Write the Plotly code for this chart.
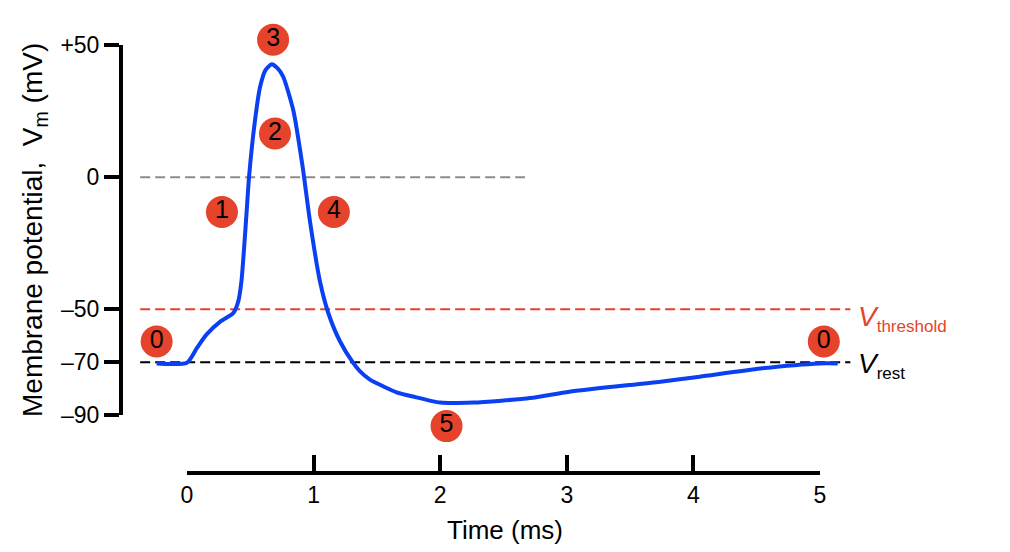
import plotly.graph_objects as go

# ---------------- data ----------------
time_ms = [-0.24, 0.0, 0.08, 0.155, 0.265, 0.366, 0.405, 0.43, 0.466, 0.49, 0.537, 0.577,
           0.62, 0.669, 0.72, 0.761, 0.84, 0.914, 0.971, 1.05, 1.116, 1.209, 1.314, 1.367,
           1.445, 1.548, 1.656, 1.785, 2.0, 2.26, 2.71, 3.02, 3.74, 4.05, 4.53, 5.0, 5.14]
vm_mv = [-70.5, -70.2, -64.5, -59.5, -54.6, -51.4, -47, -39.4, -16.6, 0, 21.4, 34.1,
         40.5, 42.7, 41, 37.9, 25.2, 3.7, -16.6, -39.4, -51.4, -62.2, -70.4, -73.5,
         -76.6, -79.1, -81.4, -83, -85.3, -85.3, -83.6, -81.2, -77.4, -75.5, -72.4, -70.5, -70.5]

phase_labels = ["0", "1", "2", "3", "4", "5", "0"]
phase_t = [-0.24, 0.276, 0.695, 0.68, 1.16, 2.05, 5.03]
phase_v = [-62.2, -13.2, 16.5, 52.0, -13.2, -94.2, -62.2]

zero_line_t = [-0.37, 2.67]
ref_line_t = [-0.37, 5.24]
v_zero = 0
v_threshold = -50
v_rest = -70

y_range = [-90, 50]
x_range_vis = [0, 5]
y_tickvals = [-90, -70, -50, 0, 50]
y_ticktext = ["–90", "–70", "–50", "0", "+50"]
x_tickvals = [0, 1, 2, 3, 4, 5]
x_ticktext = ["0", "1", "2", "3", "4", "5"]

# ---------------- layout geometry (screen pixels) ----------------
OFF = 8                       # default page margin of the html body
W, H = 1010 - OFF, 552 - OFF
PL, PR, PT, PB = 110, 880, 20, 480     # plot area on screen
ml, mr, mt, mb = PL - OFF, W - (PR - OFF), PT - OFF, H - (PB - OFF)
pw, ph = PR - PL, PB - PT

y_top_px, y_bot_px = 45, 415          # +50 mV and -90 mV
t0_px, t5_px = 187, 820               # 0 ms and 5 ms
yaxis_px = 119                        # screen x of the potential axis line
taxis_px = 473                        # screen y of the time axis line


def fx(px):
    return (px - PL) / pw


def fy(py):
    return (PB - py) / ph


# data axes (hidden) share the mapping of the visible axes
t_per_px = (x_range_vis[1] - x_range_vis[0]) / (t5_px - t0_px)
x_data_range = [x_range_vis[0] + (PL - t0_px) * t_per_px, x_range_vis[0] + (PR - t0_px) * t_per_px]
v_per_px = (y_range[1] - y_range[0]) / (y_bot_px - y_top_px)
y_data_range = [y_range[0] - (PB - y_bot_px) * v_per_px, y_range[1] + (y_top_px - PT) * v_per_px]

BLUE = "#0b3ff2"
RED = "#e5432b"
FONT = "Arial, Liberation Sans, sans-serif"

fig = go.Figure()

# reference dashed lines
fig.add_trace(go.Scatter(x=zero_line_t, y=[v_zero, v_zero], mode="lines",
                         line=dict(color="#8c8c8c", width=2, dash="10px,5px"),
                         hoverinfo="skip", showlegend=False))
fig.add_trace(go.Scatter(x=ref_line_t, y=[v_threshold, v_threshold], mode="lines",
                         line=dict(color=RED, width=2, dash="10px,5px"),
                         hoverinfo="skip", showlegend=False))
fig.add_trace(go.Scatter(x=ref_line_t, y=[v_rest, v_rest], mode="lines",
                         line=dict(color="black", width=2, dash="10px,5px"),
                         hoverinfo="skip", showlegend=False))

# action potential
fig.add_trace(go.Scatter(x=time_ms, y=vm_mv, mode="lines",
                         line=dict(color=BLUE, width=4, shape="spline", smoothing=0.6),
                         showlegend=False))

# phase markers
fig.add_trace(go.Scatter(x=phase_t, y=phase_v, mode="markers+text",
                         text=phase_labels, textposition="middle center",
                         textfont=dict(size=25, color="black", family=FONT),
                         marker=dict(size=32, color=RED, line=dict(width=0)),
                         cliponaxis=False, hoverinfo="skip", showlegend=False))

# invisible trace that carries the visible axes
fig.add_trace(go.Scatter(x=x_range_vis, y=[None, None], xaxis="x2", yaxis="y2",
                         mode="lines", hoverinfo="skip", showlegend=False))

fig.update_layout(
    width=W, height=H,
    margin=dict(l=ml, r=mr, t=mt, b=mb, autoexpand=False),
    paper_bgcolor="white", plot_bgcolor="rgba(0,0,0,0)",
    font=dict(family=FONT, color="black"),
    xaxis=dict(range=x_data_range, visible=False, domain=[0, 1], automargin=False),
    yaxis=dict(range=y_data_range, visible=False, domain=[0, 1], automargin=False),
    xaxis2=dict(range=x_range_vis, domain=[fx(t0_px), fx(t5_px)], anchor="free",
                position=fy(taxis_px),
                showline=True, linewidth=4, linecolor="black",
                ticks="inside", ticklen=16, tickwidth=4, tickcolor="black",
                tickvals=x_tickvals, ticktext=x_ticktext,
                tickfont=dict(size=23, family=FONT, color="black"),
                showgrid=False, zeroline=False, automargin=False),
    yaxis2=dict(range=y_range, domain=[fy(y_bot_px), fy(y_top_px)], anchor="free",
                position=fx(yaxis_px + 2),
                showline=True, linewidth=4, linecolor="black",
                ticks="outside", ticklen=15, tickwidth=4, tickcolor="black",
                tickvals=y_tickvals, ticktext=y_ticktext,
                tickfont=dict(size=23, family=FONT, color="black"),
                showgrid=False, zeroline=False, automargin=False),
    annotations=[
        dict(text="Membrane potential,  V<sub>m</sub> (mV)", textangle=-90,
             xref="paper", yref="paper", x=fx(34), y=fy(230), xanchor="center",
             yanchor="middle", showarrow=False, font=dict(size=28, family=FONT, color="black")),
        dict(text="Time (ms)", xref="paper", yref="paper", x=fx(505),
             y=fy(530), xanchor="center", yanchor="middle",
             showarrow=False, font=dict(size=26, family=FONT, color="black")),
        dict(text="<i>V</i><sub><span style='font-size:17px'>threshold</span></sub>",
             xref="paper", yref="paper", x=fx(856), y=fy(318),
             xanchor="left", yanchor="middle", showarrow=False,
             font=dict(size=28, family=FONT, color=RED)),
        dict(text="<i>V</i><sub><span style='font-size:17px'>rest</span></sub>",
             xref="paper", yref="paper", x=fx(856), y=fy(365),
             xanchor="left", yanchor="middle", showarrow=False,
             font=dict(size=28, family=FONT, color="black")),
    ],
)

fig.write_html("out.html")
